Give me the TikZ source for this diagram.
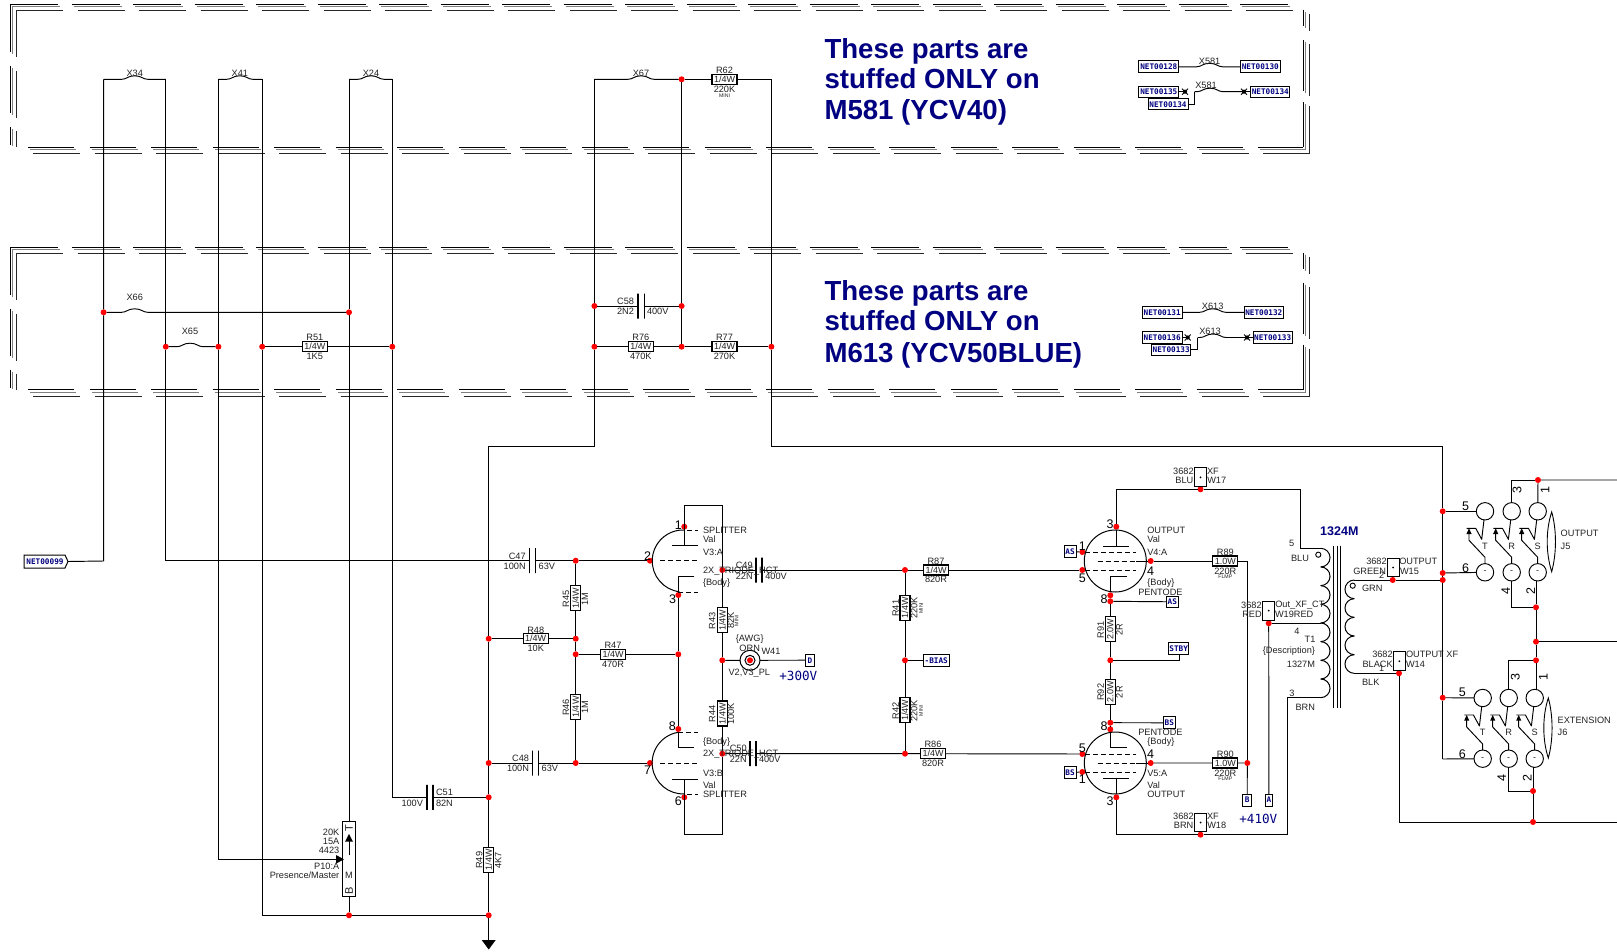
\documentclass[tikz,border=0pt]{standalone}
\usepackage{fontspec}
\setmainfont{Liberation Sans}
\newfontfamily\monof{DejaVu Sans Mono}
\definecolor{navyb}{HTML}{000080}
\definecolor{inkt}{HTML}{222222}
\tikzset{
  wire/.style={line width=0.95pt,black},
  fra/.style={line width=0.9pt,black},
  frb/.style={line width=0.9pt,black!50},
  frc/.style={line width=0.9pt,black!85},
  lb/.style={inner sep=0pt,outer sep=0pt,text=inkt,yshift=-0.5pt,font=\fontsize{9.2}{10}\selectfont},
  tiny/.style={lb,font=\fontsize{5.2}{6}\selectfont},
  pinn/.style={lb,text=black,font=\fontsize{12.5}{13}\selectfont},
  big/.style={inner sep=0pt,outer sep=0pt,text=navyb,anchor=base west,font=\fontsize{27.6}{30}\selectfont\bfseries},
  vlt/.style={inner sep=0pt,outer sep=0pt,text=navyb,font=\monof\fontsize{12.6}{13}\selectfont},
  jn/.style={circle,fill=red,minimum size=6pt,inner sep=0pt,outer sep=0pt},
  res/.style={draw=black,line width=1.05pt,fill=white,minimum width=25pt,minimum height=10pt,inner sep=0pt,outer sep=0pt,text=inkt,font=\fontsize{9}{10}\selectfont},
  capp/.style={draw=black,line width=1.1pt,minimum width=0pt,minimum height=25pt,inner sep=0pt,outer sep=0pt},
  nbox/.style={draw=black,line width=1pt,fill=white,inner sep=0pt,outer sep=0pt,text=navyb,font=\monof\bfseries\fontsize{7.7}{8}\selectfont},
  wbx/.style={draw=black,line width=1pt,fill=white,minimum width=12.4pt,minimum height=18.7pt,inner sep=0pt,outer sep=0pt},
  jck/.style={draw=black,line width=0.95pt,circle,minimum size=17.4pt,inner sep=0pt,outer sep=0pt,text=inkt,font=\fontsize{9}{10}\selectfont},
  tube/.style={draw=black,line width=1pt,circle,minimum size=62pt,inner sep=0pt,outer sep=0pt},
  tdash/.style={line width=0.95pt,dash pattern=on 5pt off 3pt},
}
\newcount\lbcnt
\newcommand\myL[3][]{\global\advance\lbcnt by 1 \node[lb,#1] (lb\the\lbcnt) at (#2) {#3};}
\newcommand\myT[3][]{\global\advance\lbcnt by 1 \node[tiny,#1] (lb\the\lbcnt) at (#2) {#3};}
\newcommand\myP[3][]{\global\advance\lbcnt by 1 \node[pinn,#1] (lb\the\lbcnt) at (#2) {#3};}
\newcommand\myJ[2]{\node[jn] (#1) at (#2) {};}
\newcommand\myC[2]{\coordinate (#1) at (#2);}
\newcommand\myBump[4]{\draw[wire] (#1) -- ({#3-13},#4) .. controls ({#3-8},#4) and ({#3-7},{#4-3.5}) .. ({#3},{#4-3.5}) .. controls ({#3+7},{#4-3.5}) and ({#3+8},#4) .. ({#3+13},#4) -- (#2);}
\newcommand\myNet[6]{\node[nbox,minimum width=#4pt,minimum height=#5pt,#6] (#1) at (#2) {#3};}
\newcommand\myW[2]{\node[wbx] (#1) at (#2) {}; \fill (#1.center) circle[radius=1pt];}
\newcommand\myFrame[1]{%
\begin{scope}[yshift=-#1pt]
\foreach \i in {0,...,20}{
 \pgfmathsetmacro\xx{10+61.5*\i}
 \draw[fra] (\xx,4.3) -- ++(48,0);
 \draw[frb] ({\xx+2},6.7) -- ++(48,0);
 \draw[frc] ({\xx+6},10.7) -- ++(47,0);
 \pgfmathsetmacro\xb{28+61.5*\i}
 \draw[fra] (\xb,147) -- ({min(\xb+46,1303)},147);
 \draw[frb] ({\xb+2},149.7) -- ({min(\xb+48,1305.5)},149.7);
 \draw[frc] ({\xb+5},153.7) -- ({min(\xb+52,1309.6)},153.7);
}
\draw[fra] (10,4.3) -- (10,52) (10,66) -- (10,113) (10,127) -- (10,145);
\draw[frb] (12.5,6.7) -- (12.5,54) (12.5,68) -- (12.5,115) (12.5,129) -- (12.5,146);
\draw[frc] (16,10.7) -- (16,57) (16,71) -- (16,118) (16,131) -- (16,147);
\draw[fra] (1303,10) -- (1303,26) (1303,40) -- (1303,91) (1303,102) -- (1303,147);
\draw[frb] (1305.5,12) -- (1305.5,28) (1305.5,42) -- (1305.5,93) (1305.5,104) -- (1305.5,149.7);
\draw[frc] (1309.6,14) -- (1309.6,31) (1309.6,44) -- (1309.6,96) (1309.6,106) -- (1309.6,153.7);
\end{scope}}
\newcommand\myXm[2]{\node[circle,fill=black,minimum size=4.2pt,inner sep=0pt,outer sep=0pt] (#1) at (#2) {};
 \draw[line width=0.9pt] ($(#1)+(-3,-3)$) -- ($(#1)+(3,3)$) ($(#1)+(-3,3)$) -- ($(#1)+(3,-3)$);}
\newcommand\myCap[3]{\node[capp] (#1) at (#2,#3) {};}
% one column of a jack: #1 name, #2 cx, #3 cy, #4 row gap, #5 letter
\newcommand\myJack[5]{%
 \node[jck] (#1t) at (#2,#3) {};
 \node[jck] (#1b) at (#2,{#3+#4}) {-};
 \draw[wire,line join=round] ({#2-18.3},{#3+17}) -- ({#2-9.3},{#3+17}) -- ({#2-3.3},{#3+28}) -- (#1t);
 \draw[wire] ({#2-16},{#3+22}) -- ({#2-16},{#3+29}) -- ({#2},{#3+46}) -- (#1b);
 \fill ({#2-16},{#3+17}) -- ({#2-13.4},{#3+22.7}) -- ({#2-18.6},{#3+22.7}) -- cycle;
 \myL{#2,{#3+34.3}}{#5}}
\usetikzlibrary{calc}
\begin{document}
\begin{tikzpicture}[x=1pt,y=-1pt]
\useasboundingbox (0,0) rectangle (1617,952);
\myFrame{0}
\myFrame{242.7}

%% ---------- parts ----------
\node[res] (R62) at (724.5,79.3) {1/4W};
\node[res] (R51) at (314.8,346.7) {1/4W};
\node[res] (R76) at (640.8,346.7) {1/4W};
\node[res] (R77) at (724.5,346.7) {1/4W};
\node[res] (R48) at (535.7,638.7) {1/4W};
\node[res] (R47) at (613,654.3) {1/4W};
\node[res] (R87) at (936,570) {1/4W};
\node[res] (R86) at (933,753.7) {1/4W};
\node[res] (R89) at (1225.3,561) {1.0W};
\node[res] (R90) at (1225.3,763) {1.0W};
\node[res,rotate=90] (R45) at (575.7,598.3) {1/4W};
\node[res,rotate=90] (R46) at (575.7,707) {1/4W};
\node[res,rotate=90] (R43) at (722.3,620.2) {1/4W};
\node[res,rotate=90] (R44) at (722.3,713.5) {1/4W};
\node[res,rotate=90] (R41) at (905,607.7) {1/4W};
\node[res,rotate=90] (R42) at (905,710.3) {1/4W};
\node[res,rotate=90] (R91) at (1110.3,629.3) {2.0W};
\node[res,rotate=90] (R92) at (1110.3,691.7) {2.0W};
\node[res,rotate=90] (R49) at (488.7,859.7) {1/4W};

\myCap{C58a}{638}{306}\myCap{C58b}{644.4}{306}
\myCap{C47a}{529.3}{560.7}\myCap{C47b}{535.3}{560.7}
\myCap{C48a}{532.7}{763}\myCap{C48b}{538.7}{763}
\myCap{C49a}{756}{570}\myCap{C49b}{762}{570}
\myCap{C50a}{750}{753.7}\myCap{C50b}{756}{753.7}
\myCap{C51a}{427}{797.3}\myCap{C51b}{433}{797.3}

%% ---------- junctions and corners ----------
\myJ{jR62}{681.6,79.3}
\myJ{j66L}{103.6,312.3}\myJ{j66R}{349,312.3}
\myJ{j65L}{165.8,346.7}\myJ{j65R}{218.4,346.7}
\myJ{j51L}{262.2,346.7}\myJ{j51R}{392.3,346.7}
\myJ{j58L}{594.4,306}\myJ{j58R}{681.6,306}
\myJ{j76L}{594.4,346.7}\myJ{j76M}{681.6,346.7}\myJ{j77R}{771.4,346.7}
\myJ{jG1}{488.7,638.7}\myJ{jG2}{488.7,763}\myJ{jG3}{488.7,797.3}\myJ{jG4}{488.7,915.3}
\myJ{jP10}{349,915.3}
\myJ{jC47}{575.7,560.7}\myJ{jR48}{575.7,638.7}\myJ{jR47}{575.7,654.3}\myJ{jC48}{575.7,763}
\myJ{p2}{650,560.7}\myJ{p7}{650,763}
\myJ{p1}{684.3,526.7}\myJ{p6}{684.3,797.3}
\myJ{p3}{678.3,595}\myJ{p8}{678.3,729}\myJ{jR47b}{678.3,654.3}
\myJ{jA}{722.3,570}\myJ{jB}{722.3,753.7}\myJ{jAwg}{722.3,660.3}
\myJ{j41}{905,570}\myJ{j42}{905,660.3}\myJ{j43}{905,753.7}
\myJ{v4a}{1082.3,552}\myJ{v4b}{1082.3,570}\myJ{v4p}{1116.3,526.7}\myJ{v4g}{1150.7,561}
\myJ{v4c}{1110.3,595.3}\myJ{v4d}{1110.3,601.3}\myJ{jStby}{1110.3,660.3}
\myJ{v5c}{1110.3,722.7}\myJ{v5d}{1110.3,729.3}
\myJ{v5a}{1082.3,772}\myJ{v5b}{1082.3,754}\myJ{v5p}{1116.3,797.3}\myJ{v5g}{1150.7,763}
\myJ{jR90}{1247.3,763}
\myJ{jW17}{1200.5,489.3}\myJ{jW18}{1200.5,834.7}\myJ{jW19}{1268.7,623.3}
\myJ{jW15}{1392.7,580}\myJ{jW14}{1399,673.3}
\myJ{jA1}{1442.7,511.3}\myJ{jA2}{1442.7,573}\myJ{jA3}{1442.7,580}\myJ{jA4}{1442.7,697.7}
\myJ{jT1}{1538,480}\myJ{jB1}{1536,607.3}\myJ{jB2}{1536,641.7}\myJ{jB3}{1536,660.3}\myJ{jB4}{1533,791}\myJ{jB5}{1533,822}

\myC{c34L}{103.6,79.3}\myC{c34R}{165.8,79.3}\myC{c41L}{218.4,79.3}\myC{c41R}{262.2,79.3}
\myC{c24L}{349,79.3}\myC{c24R}{392.3,79.3}\myC{c67L}{594.4,79.3}\myC{c62R}{771.4,79.3}
\myC{cN99}{103.6,561}\myC{cGL}{165.8,560.7}
\myC{cTopL}{488.7,446}\myC{cTopL2}{594.4,446}\myC{cTopR}{771.4,446}\myC{cTopR2}{1442.7,446}
\myC{cA5}{1442.7,759}
\myC{cC51}{392.3,797.3}\myC{cP}{262.2,915.3}\myC{cM}{218.4,859.3}
\myC{cGnd}{488.7,941}

%% ---------- labelled boxes ----------
\myNet{N128}{1158.8,66.8}{NET00128}{40}{11.7}{}
\myNet{N130}{1260.3,66.8}{NET00130}{40}{11.7}{}
\myNet{N135}{1158.8,91.7}{NET00135}{40}{11.3}{}
\myNet{N134r}{1270.3,91.7}{NET00134}{39}{11.3}{}
\myNet{N134l}{1168,104.3}{NET00134}{40}{11.3}{}
\myNet{N131}{1162.2,312.3}{NET00131}{39.6}{11.6}{}
\myNet{N132}{1263.8,312.3}{NET00132}{39.6}{11.6}{}
\myNet{N136}{1162.2,337.5}{NET00136}{39.6}{11.6}{}
\myNet{N133r}{1272.7,337.5}{NET00133}{39.4}{11.6}{}
\myNet{N133l}{1171.2,349.7}{NET00133}{39}{11.3}{}
\myNet{bAS1}{1070,551.8}{AS}{12}{11.7}{}
\myNet{bAS2}{1172.3,601.8}{AS}{12}{10.4}{}
\myNet{bST}{1178.7,648.5}{STBY}{20}{11.7}{}
\myNet{bBS1}{1169.3,722.8}{BS}{12}{11.7}{}
\myNet{bBS2}{1070,772.6}{BS}{12}{11.4}{}
\myNet{bB}{1247.2,800}{B}{9}{12}{}
\myNet{bA}{1268.9,800}{A}{7.7}{12}{}
\myNet{bD}{809.9,660.2}{D}{8.3}{11.7}{}
\myNet{bBias}{936.2,660.3}{-BIAS}{25.8}{11.7}{}

\draw[line width=1pt,fill=white] (24,555) -- (65,555) -- (68,561.5) -- (65,568) -- (24,568) -- cycle;
\node[inner sep=0pt,outer sep=0pt,text=navyb,font=\monof\bfseries\fontsize{7.7}{8}\selectfont] (N99) at (45,561.5) {NET00099};
\myC{cN99b}{68,561.5}

%% ---------- connectors: upper blocks ----------
\myBump{c34L}{c34R}{134.7}{79.3}
\myBump{c41L}{c41R}{239.8}{79.3}
\myBump{c24L}{c24R}{371}{79.3}
\myBump{c67L}{jR62}{641}{79.3}
\draw[wire] (jR62) -- (R62) -- (c62R);
\myBump{j66L}{j66R}{134.7}{312.3}
\myBump{j65L}{j65R}{190}{346.7}
\draw[wire] (j51L) -- (R51) -- (j51R);
\draw[wire] (j58L) -- (C58a) (C58b) -- (j58R);
\draw[wire] (j76L) -- (R76) -- (j76M) -- (R77) -- (j77R);
\draw[wire] (c34L) -- (j66L) -- (cN99) -- (cN99b);
\draw[wire] (c34R) -- (j65L) -- (cGL) -- (C47a);
\draw[wire] (c41L) -- (j65R) -- (cM);
\draw[wire] (c41R) -- (j51L) -- (cP) -- (jP10);
\draw[wire] (c24L) -- (j66R) -- (349,821.7);
\draw[wire] (c24R) -- (j51R) -- (cC51) -- (C51a);
\draw[wire] (C51b) -- (jG3);
\draw[wire] (c67L) -- (j58L) -- (j76L) -- (cTopL2) -- (cTopL) -- (jG1) -- (jG2) -- (jG3) -- (R49) -- (jG4) -- (cGnd);
\draw[wire] (jR62) -- (j58R) -- (j76M);
\draw[wire] (c62R) -- (j77R) -- (cTopR) -- (cTopR2) -- (jA1) -- (jA2) -- (jA3) -- (jA4) -- (cA5);
\draw[wire] (jP10) -- (jG4);

%% right side nets in the frames
\myBump{N128}{N130}{1209.6}{66.8}
\myXm{x1}{1185,91.7}\myXm{x2}{1244,91.7}
\draw[wire] (N135) -- (x1);
\myC{c581}{1194.5,91.7}
\draw[wire] (N134l) -| (c581);
\myBump{c581}{x2}{1210}{91.7}
\draw[wire] (x2) -- (N134r);
\myBump{N131}{N132}{1212.7}{312.3}
\myXm{x3}{1187.7,337.5}\myXm{x4}{1247,337.5}
\draw[wire] (N136) -- (x3);
\myC{c613}{1197.6,337.5}
\draw[wire] (N133l) -| (c613);
\myBump{c613}{x4}{1213}{337.5}
\draw[wire] (x4) -- (N133r);

%% ---------- input stage ----------
\draw[wire] (C47b) -- (jC47) -- (p2);
\draw[wire] (jG1) -- (R48) -- (jR48);
\draw[wire] (jR47) -- (R47) -- (jR47b);
\draw[wire] (jC47) -- (R45) -- (jR48) -- (jR47) -- (R46) -- (jC48);
\draw[wire] (jG2) -- (C48a) (C48b) -- (jC48) -- (p7);
% V3 outline
\myC{bxA}{684.3,505}\myC{bxB}{722.3,505}\myC{bxC}{722.3,834.3}\myC{bxD}{684.3,834.3}
\myC{plA}{684.3,545.7}\myC{plB}{684.3,779}
\draw[wire] (plA) -- (bxA) -- (bxB) -- (jA) -- (R43) -- (jAwg) -- (R44) -- (jB) -- (bxC) -- (bxD) -- (plB);
\draw[wire] (672,545.7) -- (697.7,545.7) (672,779) -- (697.7,779);
\draw[wire] (694.3,576.7) -- (678.3,576.7) -- (p3) -- (jR47b) -- (p8) -- (678.3,747.7) -- (694.3,747.7);
\draw[line width=1pt] (684.3,530) arc[start angle=88,end angle=263,radius=31pt];
\draw[line width=1pt] (678.3,732.3) arc[start angle=99,end angle=272,radius=31pt];
\draw[tdash] (687,530) -- (698,530);
\draw[tdash] (p2) ++(10,0) -- (698,560.7);
\draw[tdash] (678.3,592.3) -- (698,592.3);
\draw[tdash] (678.3,732.3) -- (698,732.3);
\draw[tdash] (p7) ++(10,0) -- (698,763);
\draw[tdash] (687,794.3) -- (698,794.3);
% C49/C50 out
\draw[wire] (jA) -- (C49a) (C49b) -- (j41) -- (R87) -- (v4b);
\draw[wire] (jB) -- (C50a) (C50b) -- (j43) -- (R86) -- (v5b);
\draw[wire] (j41) -- (R41) -- (j42) -- (R42) -- (j43);
\draw[wire] (j42) -- (bBias);
% W41
\node[circle,draw=black,line width=1pt,minimum size=20pt,inner sep=0pt,outer sep=0pt] (W41o) at (750,660.3) {};
\node[circle,draw=black,line width=1pt,minimum size=10pt,inner sep=0pt,outer sep=0pt] (W41i) at (750,660.3) {};
\draw[wire] (jAwg) -- (W41o) (W41o) -- (bD);
\myJ{jW41}{750,660.3}

%% ---------- output tubes ----------
\node[tube] (V4) at (1115.3,561) {};
\node[tube] (V5) at (1115.3,763) {};
\myC{tpL}{1116.3,489.3}\myC{tpR}{1300,489.3}\myC{tpB}{1300,548.3}\myC{coilT}{1320.7,548.3}
\myC{btL}{1116.3,834.7}\myC{btR}{1287.3,834.7}\myC{btT}{1287.3,697.7}\myC{coilB}{1320.7,697.7}
\draw[wire] (1116.3,546) -- (v4p) -- (tpL) -- (jW17) -- (tpR) -- (tpB) -- (coilT);
\draw[wire] (1116.3,778.7) -- (v5p) -- (btL) -- (jW18) -- (btR) -- (btT) -- (coilB);
\draw[wire] (1103.3,546) -- (1129.3,546) (1103.3,778.7) -- (1129.3,778.7);
\draw[wire] (bAS1) -- (v4a);
\draw[wire] (bBS2) -- (v5a);
\draw[tdash] (v4a) ++(3,0) -- (1136,552);
\draw[tdash] (1097.7,561) -- (1136,561);
\draw[tdash] (v4b) ++(3,0) -- (1136,570);
\draw[tdash] (v5b) ++(3,0) -- (1136,754);
\draw[tdash] (1097.7,763) -- (1136,763);
\draw[tdash] (v5a) ++(3,0) -- (1136,772);
\draw[line width=0.95pt] (1136,561) -- (v4g) (1136,763) -- (v5g);
\draw[wire] (1126.7,576.3) -- (1110.3,576.3) -- (v4c) -- (v4d) -- (R91) -- (jStby) -- (R92) -- (v5c) -- (v5d) -- (1110.3,747.3) -- (1126.7,747.3);
\draw[wire] (v4d) -- (bAS2);
\draw[wire] (jStby) -- (1179,660.3) -- (1179,654.3);
\draw[wire] (v5c) -- (bBS1);
\draw[wire] (v4g) -- (R89) -| (jR90);
\draw[wire] (v5g) -- (R90) -- (jR90) -- (bB);
\myW{W17}{1200.5,477.3}\myW{W18}{1200.5,822.5}\myW{W19}{1268.7,610.7}
\myW{W15}{1393.2,567.5}\myW{W14}{1399.3,661.2}
\draw[wire] (W17) -- (jW17) (W18) -- (jW18) (W19) -- (jW19) (W15) -- (jW15) (W14) -- (jW14);
\draw[wire] (jW19) -- (bA);
\myC{tapC}{1320.7,623.3}
\draw[wire] (jW19) -- (tapC);

%% ---------- transformer ----------
\foreach \k in {0,...,7}{
 \draw[line width=1pt] (1320.7,{548.3+18.67*\k}) arc[start angle=90,end angle=-90,radius=9.33pt];
}
\foreach \k in {0,...,4}{
 \draw[line width=1pt] (1354.3,{580+18.67*\k}) arc[start angle=90,end angle=270,radius=9.33pt];
}
\draw[line width=1pt] (1333.7,545.7) -- (1333.7,707.7) (1337,545.7) -- (1337,707.7) (1340.3,545.7) -- (1340.3,707.7);
\draw[line width=0.9pt] (1318.3,554.7) circle[radius=2.6pt];
\draw[line width=0.9pt] (1352.7,585.7) circle[radius=2.6pt];
\myC{secT}{1354.3,580}\myC{secB}{1354.3,673.3}
\draw[wire] (secT) -- (jW15) -- (jA3);
\myC{bt14}{1399,822}\myC{edgeA}{1617,822}\myC{edgeB}{1617,480}\myC{edgeC}{1617,641.7}
\draw[wire] (secB) -- (jW14) -- (bt14) -- (jB5) -- (edgeA);

%% ---------- jacks ----------
\myJack{J5T}{1485}{511.3}{61}{T}
\myJack{J5R}{1511.7}{511.3}{61}{R}
\myJack{J5S}{1537.7}{511.3}{61}{S}
\myJack{J6T}{1482.7}{698}{60.7}{T}
\myJack{J6R}{1508.7}{698}{60.7}{R}
\myJack{J6S}{1534.7}{698}{60.7}{S}
\draw[wire] (jA1) -- (J5Tt);
\draw[wire] (jA2) -- (J5Tb);
\draw[wire] (jA4) -- (J6Tt);
\draw[wire] (cA5) -- (J6Tb);
\draw[wire] (J5Rt) |- (jT1);
\draw[wire] (J5St) -- (jT1) -- (edgeB);
\draw[wire] (J5Rb) |- (jB1);
\myC{p5S}{1536,581}
\draw[wire] (p5S) -- (jB1) -- (jB2) -- (jB3) -- (1536,689.3);
\draw[wire] (jB2) -- (edgeC);
\draw[wire] (J6Rt) |- (jB3);
\draw[wire] (J6Rb) |- (jB4);
\myC{p6S}{1533,767.3}
\draw[wire] (p6S) -- (jB4) -- (jB5);
\draw[line width=0.9pt] (1551.7,512) .. controls (1545.7,530) and (1545.7,553) .. (1551.7,571.7) .. controls (1556.7,553) and (1556.7,530) .. cycle;
\draw[line width=0.9pt] (1548.3,698) .. controls (1542.3,716) and (1542.3,740) .. (1548.3,758) .. controls (1553.3,740) and (1553.3,716) .. cycle;

%% ---------- pot P10 ----------
\node[draw=black,line width=1pt,fill=white,minimum width=12.6pt,minimum height=75pt,inner sep=0pt,outer sep=0pt] (P10) at (349,859.2) {};
\draw[wire] (349,855) -- (349,841);
\fill (349,834) -- (353,841.7) -- (345,841.7) -- cycle;
\draw[wire] (cM) -- (336,859.3);
\fill (344,859.3) -- (336,855) -- (336,863.6) -- cycle;
\myL[font=\fontsize{11}{12}\selectfont]{349,827.7}{\rotatebox{90}{T}}
\myL[font=\fontsize{11}{12}\selectfont]{349,890.7}{\rotatebox{90}{B}}
\myL{349,874.7}{M}
\myL[anchor=east]{339.3,831.7}{20K}
\myL[anchor=east]{339.3,840.7}{15A}
\myL[anchor=east]{339.3,850}{4423}
\myL[anchor=east]{339.3,865.7}{P10:A}
\myL[anchor=east]{339.3,874.7}{Presence/Master}
\draw[wire] (P10.south) -- (jP10);
\fill (cGnd) ++(0,-1) -- ++(7,0) -- ++(-7,9.5) -- ++(-7,-9.5) -- cycle;

%% ---------- big texts ----------
\node[big] (tA1) at (824.5,58.3) {These parts are};
\node[big] (tA2) at (824.5,88.7) {stuffed ONLY on};
\node[big] (tA3) at (824.5,120) {M581 (YCV40)};
\node[big] (tB1) at (824.5,300) {These parts are};
\node[big] (tB2) at (824.5,330.7) {stuffed ONLY on};
\node[big] (tB3) at (824.5,362) {M613 (YCV50BLUE)};
\node[vlt] (v300) at (798.3,676) {+300V};
\node[vlt] (v410) at (1258.3,819.3) {+410V};
\node[inner sep=0pt,outer sep=0pt,text=navyb,font=\fontsize{12.5}{13}\selectfont\bfseries] (t1324) at (1339.3,531.5) {1324M};

%% ---------- small labels ----------
\myL{134.7,73}{X34}\myL{239.8,73}{X41}\myL{371,73}{X24}\myL{641,73}{X67}
\myL{724.5,70}{R62}\myL{724.5,89}{220K}\myT{724.5,95}{MINI}
\myL{134.7,296.7}{X66}\myL{190,331}{X65}
\myL{314.8,337}{R51}\myL{314.8,356}{1K5}
\myL[anchor=east]{634,301}{C58}\myL[anchor=east]{634,311}{2N2}\myL[anchor=west]{647,311}{400V}
\myL{640.8,337}{R76}\myL{640.8,356}{470K}
\myL{724.5,337}{R77}\myL{724.5,356}{270K}
\myL{1209.6,61}{X581}\myL{1206,85}{X581}\myL{1212.7,305.7}{X613}\myL{1210,330.7}{X613}

\myL[anchor=east]{525.7,555.7}{C47}\myL[anchor=east]{525.7,565.7}{100N}\myL[anchor=west]{538.7,565.7}{63V}
\myL[anchor=east]{529,757.7}{C48}\myL[anchor=east]{529,767.7}{100N}\myL[anchor=west]{541.7,767.7}{63V}
\myL[anchor=west]{436,791.7}{C51}\myL[anchor=west]{436,802.7}{82N}\myL[anchor=east]{423,802.7}{100V}
\myL[rotate=90]{566,598.3}{R45}\myL[rotate=90]{585,598.3}{1M}
\myL[rotate=90]{566,707}{R46}\myL[rotate=90]{585,707}{1M}
\myL[rotate=90]{479.3,859.7}{R49}\myL[rotate=90]{498.3,859.7}{4K7}
\myL{535.7,630}{R48}\myL{535.7,647.7}{10K}
\myL{613,644.7}{R47}\myL{613,663.7}{470R}
\myL[rotate=90]{712.3,620.2}{R43}\myL[rotate=90]{731,620.2}{82K}\myT[rotate=90]{736.7,620.2}{MINI}
\myL[rotate=90]{712.3,713.5}{R44}\myL[rotate=90]{731,713.5}{100K}
\myL[rotate=90]{895.7,607.7}{R41}\myL[rotate=90]{914.3,607.7}{220K}\myT[rotate=90]{921,607.7}{MINI}
\myL[rotate=90]{895.7,710.3}{R42}\myL[rotate=90]{914.3,710.3}{220K}\myT[rotate=90]{921,710.3}{MINI}
\myL{936,561}{R87}\myL{936,579.3}{820R}
\myL{933,744.3}{R86}\myL{933,762.7}{820R}
\myL[anchor=east]{752.7,565}{C49}\myL[anchor=east]{752.7,575.7}{22N}\myL[anchor=west]{765.3,575.7}{400V}
\myL[anchor=east]{746.7,748.3}{C50}\myL[anchor=east]{746.7,758.7}{22N}\myL[anchor=west]{759,758.7}{400V}
\myL[anchor=west]{703,529.7}{SPLITTER}\myL[anchor=west]{703,538.7}{Val}\myL[anchor=west]{703,551.7}{V3:A}
\myL[anchor=west]{703,570.7}{2X\_TRIODE\_HCT}\myL[anchor=west]{703,582.7}{\{Body\}}
\myL[anchor=west]{703,741.7}{\{Body\}}\myL[anchor=west]{703,753.7}{2X\_TRIODE\_HCT}
\myL[anchor=west]{703,772.7}{V3:B}\myL[anchor=west]{703,784.7}{Val}\myL[anchor=west]{703,793.7}{SPLITTER}
\myL{749.7,638.7}{\{AWG\}}\myL{749.7,647.7}{ORN}\myL{771,650.7}{W41}\myL{749.3,672.7}{V2,V3\_PL}
\myP{678.3,524.3}{1}\myP{647.7,555.7}{2}\myP{672.7,598.7}{3}\myP{672.3,726}{8}\myP{647.7,769.3}{7}\myP{678.3,800.7}{6}

\myL{1225.3,551.7}{R89}\myL{1225.3,570.7}{220R}\myT{1225.3,576.7}{FLMP}
\myL{1225.3,753.7}{R90}\myL{1225.3,772.7}{220R}\myT{1225.3,778.7}{FLMP}
\myL[rotate=90]{1100.7,629.3}{R91}\myL[rotate=90]{1119.3,629.3}{2R}
\myL[rotate=90]{1100.7,691.7}{R92}\myL[rotate=90]{1119.3,691.7}{2R}
\myL[anchor=west]{1147.3,529.7}{OUTPUT}\myL[anchor=west]{1147.3,538.7}{Val}\myL[anchor=west]{1147.3,551.7}{V4:A}
\myL[anchor=west]{1147.3,583}{\{Body\}}\myL[anchor=west]{1138.3,592}{PENTODE}
\myL[anchor=west]{1138.3,731.7}{PENTODE}\myL[anchor=west]{1147.3,742}{\{Body\}}
\myL[anchor=west]{1147.3,772.7}{V5:A}\myL[anchor=west]{1147.3,784.7}{Val}\myL[anchor=west]{1147.3,793.7}{OUTPUT}
\myP{1150.7,570.7}{4}\myP{1150.7,754}{4}
\myP{1110,524}{3}\myP{1082.3,545.7}{1}\myP{1082.3,577.3}{5}\myP{1104,598.7}{8}
\myP{1082.3,747.3}{5}\myP{1082.3,779}{1}\myP{1110,800.7}{3}\myP{1104,726}{8}

\myL[anchor=east]{1193.7,470.7}{3682}\myL[anchor=west]{1207,470.7}{XF}\myL[anchor=east]{1193.3,479.7}{BLU}\myL[anchor=west]{1207.3,479.7}{W17}
\myL[anchor=east]{1193.7,816}{3682}\myL[anchor=west]{1207,816}{XF}\myL[anchor=east]{1193.3,824.7}{BRN}\myL[anchor=west]{1207.3,824.7}{W18}
\myL[anchor=east]{1261.7,604.7}{3682}\myL[anchor=west]{1275.3,604.7}{Out\_XF\_CT}\myL[anchor=east]{1261.7,613.7}{RED}\myL[anchor=west]{1275,613.7}{W19RED}
\myL{1291.7,543}{5}\myL{1300,557.7}{BLU}\myL{1297,631}{4}\myL{1310,639}{T1}
\myL[anchor=east]{1315,651}{\{Description\}}\myL[anchor=east]{1315,663.7}{1327M}
\myL{1292,693}{3}\myL{1305.3,706.7}{BRN}
\myL[anchor=east]{1386.7,560.7}{3682}\myL[anchor=west]{1399.3,560.7}{OUTPUT}\myL[anchor=east]{1386,570.7}{GREEN}\myL[anchor=west]{1400,570.7}{W15}
\myL{1381.7,575}{2}\myL[anchor=west]{1362,588.3}{GRN}
\myL[anchor=east]{1392.7,654}{3682}\myL[anchor=west]{1406,654}{OUTPUT XF}\myL[anchor=east]{1392.7,663.7}{BLACK}\myL[anchor=west]{1406,663.7}{W14}
\myL{1381.7,668.3}{1}\myL[anchor=west]{1362,681.7}{BLK}

\myP{1465.7,505.7}{5}\myP{1465.7,567.7}{6}\myP{1462.3,692}{5}\myP{1462.3,754}{6}
\myP[rotate=90]{1517,489.3}{3}\myP[rotate=90]{1545,490}{1}
\myP[rotate=90]{1505.7,591}{4}\myP[rotate=90]{1530.7,591}{2}
\myP[rotate=90]{1515.3,676.7}{3}\myP[rotate=90]{1543.3,676.7}{1}
\myP[rotate=90]{1501.7,777.7}{4}\myP[rotate=90]{1527.3,777.7}{2}
\myL[anchor=west]{1560.7,532.7}{OUTPUT}\myL[anchor=west]{1560.7,546}{J5}
\myL[anchor=west]{1557.7,719.7}{EXTENSION}\myL[anchor=west]{1557.7,732}{J6}
\end{tikzpicture}
\end{document}
